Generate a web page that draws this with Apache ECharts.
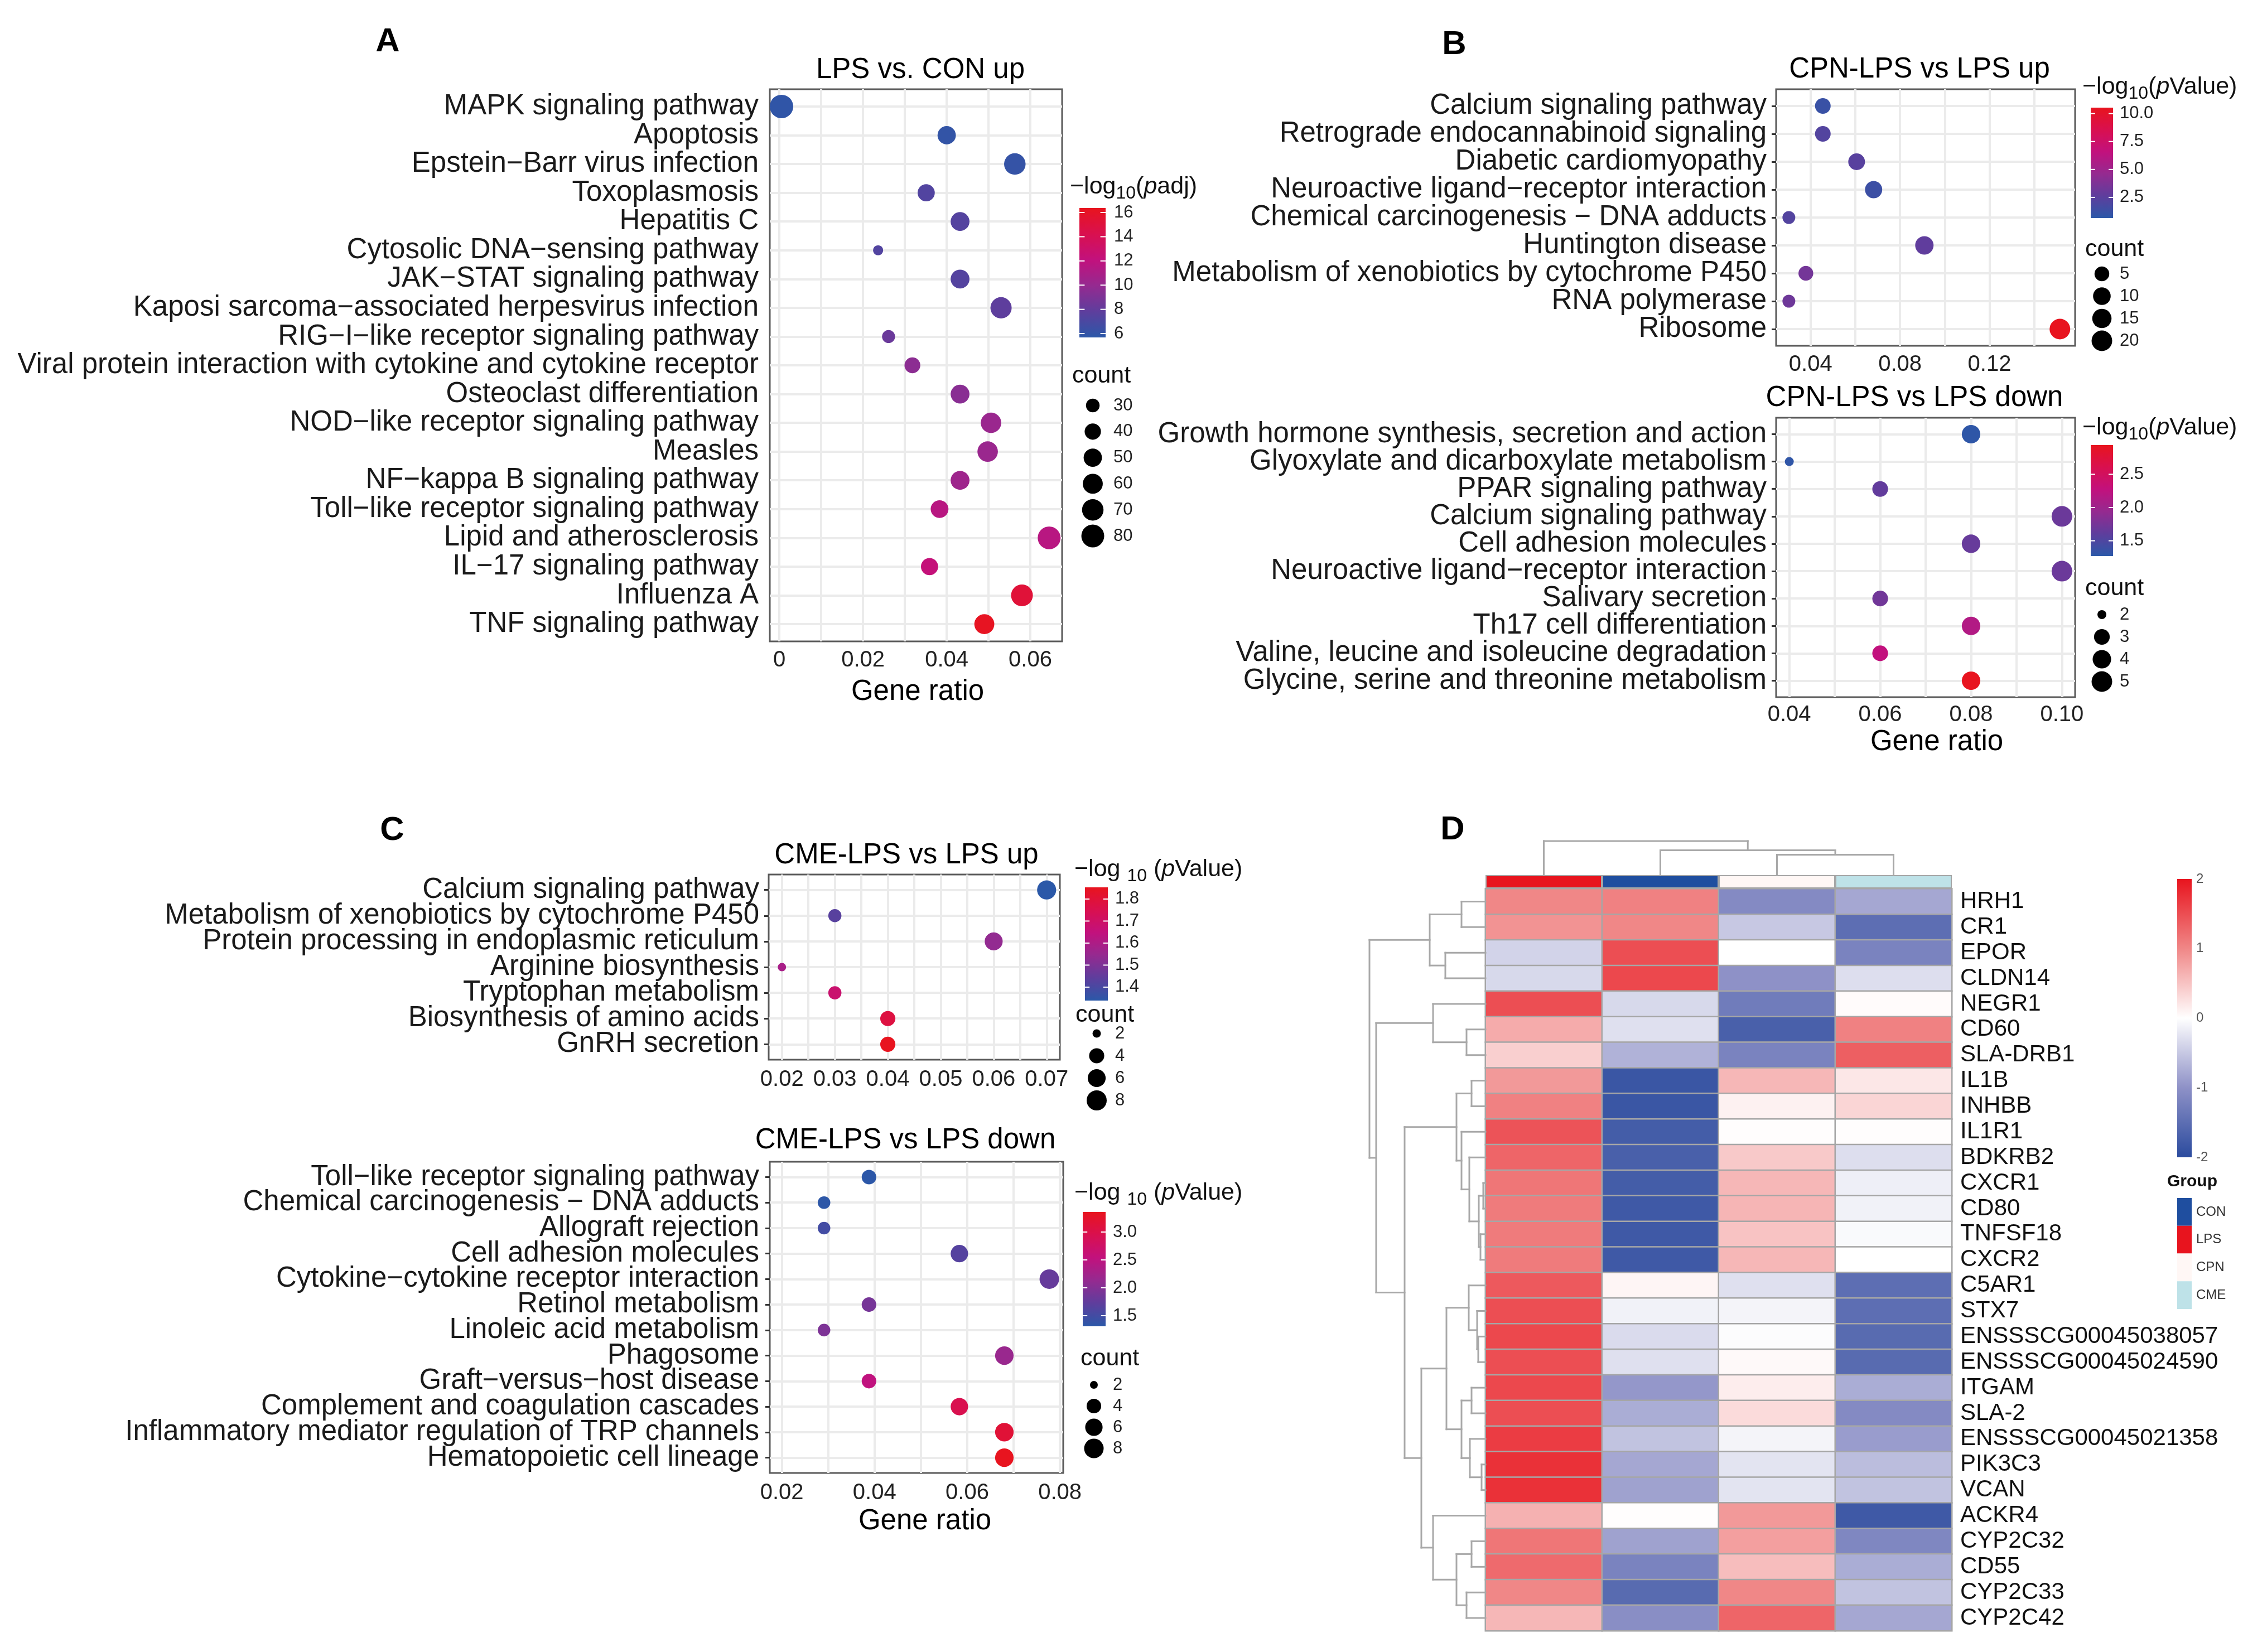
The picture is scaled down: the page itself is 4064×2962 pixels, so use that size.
<!DOCTYPE html>
<html><head><meta charset="utf-8">
<script src="https://cdn.jsdelivr.net/npm/echarts@6/dist/echarts.min.js"></script>
<style>html,body{margin:0;padding:0;background:#fff}#c{width:4064px;height:2962px}</style>
</head><body><div id="c"></div>
<script>
// ---------------- DATA ----------------
// Panel A: LPS vs. CON up
const A_terms = ['MAPK signaling pathway','Apoptosis','Epstein\u2212Barr virus infection','Toxoplasmosis','Hepatitis C','Cytosolic DNA\u2212sensing pathway','JAK\u2212STAT signaling pathway','Kaposi sarcoma\u2212associated herpesvirus infection','RIG\u2212I\u2212like receptor signaling pathway','Viral protein interaction with cytokine and cytokine receptor','Osteoclast differentiation','NOD\u2212like receptor signaling pathway','Measles','NF\u2212kappa B signaling pathway','Toll\u2212like receptor signaling pathway','Lipid and atherosclerosis','IL\u221217 signaling pathway','Influenza A','TNF signaling pathway'];
const A_ratio = [0.0005,0.0400,0.0563,0.0351,0.0432,0.0236,0.0432,0.0530,0.0261,0.0318,0.0432,0.0506,0.0498,0.0432,0.0383,0.0645,0.0359,0.0580,0.0490];
const A_count = [85,50,70,44,53,22,53,68,28,38,53,63,63,53,47,80,44,72,60];
const A_padj  = [5.9,6.0,6.1,7.3,7.4,7.3,7.4,7.8,8.3,9.6,9.5,10.2,10.2,10.4,11.6,11.6,12.3,15.2,16.2];
const A_xticks = [0,0.02,0.04,0.06];
const A_xgrid = [0,0.01,0.02,0.03,0.04,0.05,0.06];
const A_cticks = [6,8,10,12,14,16];
const A_sizeKeys = [30,40,50,60,70,80];

// Panel B up: CPN-LPS vs LPS up
const Bu_terms = ['Calcium signaling pathway','Retrograde endocannabinoid signaling','Diabetic cardiomyopathy','Neuroactive ligand\u2212receptor interaction','Chemical carcinogenesis \u2212 DNA adducts','Huntington disease','Metabolism of xenobiotics by cytochrome P450','RNA polymerase','Ribosome'];
const Bu_ratio = [0.0455,0.0455,0.0606,0.0682,0.0303,0.0909,0.0379,0.0303,0.1515];
const Bu_count = [6,6,8,9,4,12,5,4,20];
const Bu_logp  = [1.2,2.2,2.4,1.3,2.2,2.7,3.4,3.2,10.5];
const Bu_xticks = [0.04,0.08,0.12];
const Bu_xgrid = [0.04,0.06,0.08,0.10,0.12,0.14];
const Bu_cticks = [2.5,5.0,7.5,10.0];
const Bu_sizeKeys = [5,10,15,20];

// Panel B down: CPN-LPS vs LPS down
const Bd_terms = ['Growth hormone synthesis, secretion and action','Glyoxylate and dicarboxylate metabolism','PPAR signaling pathway','Calcium signaling pathway','Cell adhesion molecules','Neuroactive ligand\u2212receptor interaction','Salivary secretion','Th17 cell differentiation','Valine, leucine and isoleucine degradation','Glycine, serine and threonine metabolism'];
const Bd_ratio = [0.08,0.04,0.06,0.10,0.08,0.10,0.06,0.08,0.06,0.08];
const Bd_count = [4,2,3,5,4,5,3,4,3,4];
const Bd_logp  = [1.29,1.30,1.63,1.68,1.66,1.68,1.72,2.15,2.27,2.93];
const Bd_xticks = [0.04,0.06,0.08,0.10];
const Bd_xgrid = [0.04,0.05,0.06,0.07,0.08,0.09,0.10];
const Bd_cticks = [1.5,2.0,2.5];
const Bd_sizeKeys = [2,3,4,5];

// Panel C up: CME-LPS vs LPS up
const Cu_terms = ['Calcium signaling pathway','Metabolism of xenobiotics by cytochrome P450','Protein processing in endoplasmic reticulum','Arginine biosynthesis','Tryptophan metabolism','Biosynthesis of amino acids','GnRH secretion'];
const Cu_ratio = [0.07,0.03,0.06,0.02,0.03,0.04,0.04];
const Cu_count = [7,3,6,2,3,4,4];
const Cu_logp  = [1.34,1.43,1.54,1.59,1.68,1.78,1.85];
const Cu_xticks = [0.02,0.03,0.04,0.05,0.06,0.07];
const Cu_xgrid = [0.02,0.025,0.03,0.035,0.04,0.045,0.05,0.055,0.06,0.065,0.07];
const Cu_cticks = [1.4,1.5,1.6,1.7,1.8];
const Cu_sizeKeys = [2,4,6,8];

// Panel C down: CME-LPS vs LPS down
const Cd_terms = ['Toll\u2212like receptor signaling pathway','Chemical carcinogenesis \u2212 DNA adducts','Allograft rejection','Cell adhesion molecules','Cytokine\u2212cytokine receptor interaction','Retinol metabolism','Linoleic acid metabolism','Phagosome','Graft\u2212versus\u2212host disease','Complement and coagulation cascades','Inflammatory mediator regulation of TRP channels','Hematopoietic cell lineage'];
const Cd_ratio = [0.0388,0.0291,0.0291,0.0583,0.0777,0.0388,0.0291,0.0680,0.0388,0.0583,0.0680,0.0680];
const Cd_count = [4,3,3,6,8,4,3,7,4,6,7,7];
const Cd_logp  = [1.32,1.33,1.50,1.65,1.78,1.90,1.95,2.17,2.52,2.95,3.15,3.35];
const Cd_xticks = [0.02,0.04,0.06,0.08];
const Cd_xgrid = [0.02,0.03,0.04,0.05,0.06,0.07,0.08];
const Cd_cticks = [1.5,2.0,2.5,3.0];
const Cd_sizeKeys = [2,4,6,8];

// Panel D: heatmap
const HM_groups = ['LPS','CON','CPN','CME'];
const HM_genes = ['HRH1','CR1','EPOR','CLDN14','NEGR1','CD60','SLA-DRB1','IL1B','INHBB','IL1R1','BDKRB2','CXCR1','CD80','TNFSF18','CXCR2','C5AR1','STX7','ENSSSCG00045038057','ENSSSCG00045024590','ITGAM','SLA-2','ENSSSCG00045021358','PIK3C3','VCAN','ACKR4','CYP2C32','CD55','CYP2C33','CYP2C42'];
const HM_values = [
  [1.0,1.05,-1.1,-0.8],[0.9,1.0,-0.5,-1.5],[-0.4,1.5,0.0,-1.2],[-0.35,1.55,-1.0,-0.3],
  [1.5,-0.35,-1.3,0.03],[0.7,-0.28,-1.7,1.05],[0.4,-0.7,-1.2,1.35],
  [0.85,-1.85,0.6,0.2],[1.05,-1.85,0.12,0.35],[1.45,-1.75,0.02,0.02],[1.3,-1.7,0.45,-0.3],
  [1.15,-1.75,0.6,-0.15],[1.1,-1.8,0.62,-0.12],[1.1,-1.8,0.5,-0.05],[1.1,-1.8,0.6,0.0],
  [1.4,0.08,-0.28,-1.5],[1.5,-0.12,-0.1,-1.5],[1.55,-0.33,-0.03,-1.55],[1.5,-0.28,0.05,-1.55],
  [1.55,-0.95,0.15,-0.75],[1.5,-0.75,0.3,-1.1],[1.65,-0.55,-0.1,-0.9],[1.75,-0.8,-0.25,-0.6],[1.75,-0.85,-0.25,-0.55],
  [0.65,0.02,0.85,-1.8],[1.15,-0.85,0.8,-1.15],[1.25,-1.2,0.55,-0.75],[1.0,-1.55,1.0,-0.55],[0.6,-1.05,1.3,-0.8]
];
const HM_scaleTicks = [-2,-1,0,1,2];
const HM_legendGroups = ['CON','LPS','CPN','CME'];
// dendrograms: [mergeHeight, childA, childB]
const ROW_TREE = [208,
  [100,[43,'HRH1','CR1'],[72,'EPOR','CLDN14']],
  [196,
    [94,'NEGR1',[34,'CD60','SLA-DRB1']],
    [145,
      [52,[25,'IL1B','INHBB'],[43,'IL1R1',[29,'BDKRB2',[12,[4,'CXCR1','CD80'],[9,'TNFSF18','CXCR2']]]]],
      [115,
        [70,[30,'C5AR1',[15,'STX7',[13,'ENSSSCG00045038057','ENSSSCG00045024590']]],[43,[25,'ITGAM','SLA-2'],[28,'ENSSSCG00045021358',[7,'PIK3C3','VCAN']]]],
        [94,'ACKR4',[52,[25,'CYP2C32','CD55'],[34,'CYP2C33','CYP2C42']]]
      ]
    ]
  ]
];
const COL_TREE = [61,'LPS',[44.5,'CON',[36.5,'CPN','CME']]];

// ---------------- STYLE ----------------
const FONT = '"Liberation Sans", Arial, Helvetica, sans-serif';
const SCAT_COLORS = ['#2B58A8','#5E3E9D','#952A90','#C2117D','#D9104F','#E8141E'];
const HM_COLORS = ['#2B4B9E','#8E91C7','#FFFFFF','#F08787','#E8141E'];
const GROUP_COLORS = {LPS:'#E8141E', CON:'#1F4E9F', CPN:'#FFF7F5', CME:'#BEE2E8'};

const grids=[], xAxes=[], yAxes=[], series=[], visualMaps=[], graphics=[];
function addGrid(l,t,w,h,extra){
  grids.push(Object.assign({left:l, top:t, width:w, height:h, containLabel:false, outerBoundsMode:'none'}, extra||{}));
  return grids.length-1;
}
function sizeFn(p){ return v => p[2] + (p[3]-p[2]) * Math.sqrt(Math.max(0, v-p[0])/(p[1]-p[0])); }

function colorbar(box, range, ticks, fmt, margin, colors, withTicks, labStyle){
  const g = addGrid(box[0], box[1], box[2]-box[0], box[3]-box[1]);
  xAxes.push({gridIndex:g, type:'value', min:0, max:1, show:false});
  yAxes.push({gridIndex:g, type:'value', min:range[0], max:range[1], position:'right',
    axisLine:{show:false}, axisTick:{show:false}, splitLine:{show:false},
    axisLabel:Object.assign({customValues:ticks, formatter:fmt, fontSize:31, color:'#222', margin:margin, fontFamily:FONT,
      showMinLabel:true, showMaxLabel:true}, labStyle||{})});
  const xi = xAxes.length-1, yi = yAxes.length-1;
  const stops = colors.map((c,i)=>({offset:i/(colors.length-1), color:colors[colors.length-1-i]}));
  series.push({type:'custom', xAxisIndex:xi, yAxisIndex:yi, silent:true, clip:false, z:2,
    data:[[0, range[0]]],
    renderItem:(params, api)=>{
      const tl = api.coord([0, range[1]]), br = api.coord([1, range[0]]);
      const w = br[0]-tl[0], h = br[1]-tl[1];
      const ch = [{type:'rect', shape:{x:tl[0], y:tl[1], width:w, height:h}, style:{fill:new echarts.graphic.LinearGradient(0,0,0,1,stops)}}];
      if (withTicks) ticks.forEach(t=>{
        const y = api.coord([0,t])[1];
        ch.push({type:'line', shape:{x1:tl[0], y1:y, x2:tl[0]+w*0.2, y2:y}, style:{stroke:'#fff', lineWidth:2}});
        ch.push({type:'line', shape:{x1:br[0]-w*0.2, y1:y, x2:br[0], y2:y}, style:{stroke:'#fff', lineWidth:2}});
      });
      return {type:'group', children:ch};
    }});
}

function sizeLegend(cx, y0, y1, keys, sz, margin){
  const n = keys.length, band = (y1-y0)/(n-1);
  const g = addGrid(cx-20, y0-band/2, 40, band*n);
  xAxes.push({gridIndex:g, type:'value', min:-1, max:1, show:false});
  yAxes.push({gridIndex:g, type:'category', data:keys.map(String), inverse:true, position:'right',
    axisLine:{show:false}, axisTick:{show:false}, splitLine:{show:false},
    axisLabel:{interval:0, fontSize:31, color:'#222', margin:margin, fontFamily:FONT}});
  series.push({type:'scatter', xAxisIndex:xAxes.length-1, yAxisIndex:yAxes.length-1, silent:true, symbol:'circle',
    data:keys.map((k,i)=>[0,i,k]), symbolSize:v=>sz(v[2]), itemStyle:{color:'#000', opacity:1}});
}

function scatterPanel(o){
  const L = o.box[0], T = o.box[1], W = o.box[2]-o.box[0], H = o.box[3]-o.box[1];
  const g = addGrid(L, T, W, H, {show:true, borderColor:'#5a5a5a', borderWidth:3, backgroundColor:'#fff'});
  const n = o.terms.length, idx = o.terms.map((t,i)=>i);
  xAxes.push({gridIndex:g, type:'value', min:o.xr[0], max:o.xr[1], axisLine:{show:false}, splitLine:{show:false},
    axisTick:{show:true, customValues:o.xticks, length:8, lineStyle:{color:'#333', width:3}},
    axisLabel:{show:true, customValues:o.xticks, formatter:o.fmt, fontSize:40, color:'#222', margin:o.xm, fontFamily:FONT,
      showMinLabel:true, showMaxLabel:true}});
  const xi = xAxes.length-1;
  yAxes.push({gridIndex:g, type:'value', inverse:true, min:-0.6, max:n-0.4, axisLine:{show:false}, splitLine:{show:false},
    axisTick:{show:true, customValues:idx, length:8, lineStyle:{color:'#333', width:3}},
    axisLabel:{show:false}});
  const yi = yAxes.length-1;
  // category labels in a grid inset by 0.1 band (ggplot-like 0.6 padding)
  const band = H/(n+0.2);
  const gl = addGrid(L, T+0.1*band, W, band*n);
  xAxes.push({gridIndex:gl, type:'value', min:0, max:1, show:false});
  yAxes.push({gridIndex:gl, type:'category', data:o.terms, inverse:true,
    axisLine:{show:false}, axisTick:{show:false}, splitLine:{show:false},
    axisLabel:{interval:0, fontSize:51, color:'#1a1a1a', margin:o.ym, fontFamily:FONT}});
  const sz = sizeFn(o.size);
  series.push({type:'scatter', xAxisIndex:xi, yAxisIndex:yi, z:3, symbol:'circle', emphasis:{disabled:true},
    data:o.terms.map((t,i)=>[o.ratio[i], i, o.count[i], o.logp[i]]),
    symbolSize:v=>sz(v[2]), itemStyle:{opacity:1},
    markLine:{silent:true, symbol:['none','none'], precision:6, z:1, animation:false, label:{show:false},
      emphasis:{disabled:true}, lineStyle:{color:'#EBEBEB', width:4, type:'solid'},
      data:[...o.xgrid.map(v=>({xAxis:v})), ...idx.map(i=>({yAxis:i}))]}});
  visualMaps.push({type:'continuous', show:false, seriesIndex:series.length-1, dimension:3,
    min:o.cr[0], max:o.cr[1], inRange:{color:SCAT_COLORS}});
  colorbar(o.cbox, o.cr, o.cticks, o.cfmt, o.cm, SCAT_COLORS, true);
  sizeLegend(o.kx, o.ky[0], o.ky[1], o.keys, sz, o.km);
}

const f2 = v => v===0 ? '0' : v.toFixed(2);
const f1 = v => v.toFixed(1);
const f0 = v => String(Math.round(v));

scatterPanel({terms:A_terms, ratio:A_ratio, count:A_count, logp:A_padj, box:[1380,160,1904,1150], xr:[-0.0023,0.0676],
  xticks:A_xticks, xgrid:A_xgrid, fmt:f2, xm:14, ym:20, size:[20,85,13.1,42.1],
  cr:[5.68,16.37], cbox:[1935,373,1982,605], cticks:A_cticks, cfmt:f0, cm:15,
  kx:1959, ky:[727,961], keys:A_sizeKeys, km:17});
scatterPanel({terms:Bu_terms, ratio:Bu_ratio, count:Bu_count, logp:Bu_logp, box:[3184,160,3720,620], xr:[0.0246,0.1583],
  xticks:Bu_xticks, xgrid:Bu_xgrid, fmt:f2, xm:14, ym:17, size:[4,20,23,37],
  cr:[0.65,10.53], cbox:[3748,193,3788,391], cticks:Bu_cticks, cfmt:f1, cm:12,
  kx:3768, ky:[491,611], keys:Bu_sizeKeys, km:12});
scatterPanel({terms:Bd_terms, ratio:Bd_ratio, count:Bd_count, logp:Bd_logp, box:[3184,749,3720,1250], xr:[0.0371,0.1029],
  xticks:Bd_xticks, xgrid:Bd_xgrid, fmt:f2, xm:12, ym:17, size:[2,5,16,37],
  cr:[1.27,2.94], cbox:[3748,798,3788,997], cticks:Bd_cticks, cfmt:f1, cm:12,
  kx:3768, ky:[1102,1222], keys:Bd_sizeKeys, km:12});
scatterPanel({terms:Cu_terms, ratio:Cu_ratio, count:Cu_count, logp:Cu_logp, box:[1378,1568,1900,1900], xr:[0.0175,0.0725],
  xticks:Cu_xticks, xgrid:Cu_xgrid, fmt:f2, xm:16, ym:17, size:[2,8,15,36],
  cr:[1.339,1.853], cbox:[1945,1591,1986,1794], cticks:Cu_cticks, cfmt:f1, cm:13,
  kx:1966, ky:[1853,1973], keys:Cu_sizeKeys, km:13});
scatterPanel({terms:Cd_terms, ratio:Cd_ratio, count:Cd_count, logp:Cd_logp, box:[1380,2083,1906,2641], xr:[0.0174,0.0807],
  xticks:Cd_xticks, xgrid:Cd_xgrid, fmt:f2, xm:16, ym:19, size:[2,8,14,35],
  cr:[1.31,3.36], cbox:[1941,2173,1982,2378], cticks:Cd_cticks, cfmt:f1, cm:13,
  kx:1961, ky:[2483,2597], keys:Cd_sizeKeys, km:14});

// ---------------- HEATMAP ----------------
const HX = 2663, HY = 1593.5, HW = 836, HH = 1330.5;
const gH = addGrid(HX, HY, HW, HH);
xAxes.push({gridIndex:gH, type:'category', data:HM_groups, show:false});
yAxes.push({gridIndex:gH, type:'category', data:HM_genes, inverse:true, position:'right',
  axisLine:{show:false}, axisTick:{show:false}, splitLine:{show:false},
  axisLabel:{interval:0, fontSize:42, color:'#111', margin:15, fontFamily:FONT}});
series.push({type:'heatmap', xAxisIndex:xAxes.length-1, yAxisIndex:yAxes.length-1, emphasis:{disabled:true}, silent:true,
  data:HM_values.flatMap((row,r)=>row.map((v,c)=>[c,r,v])),
  itemStyle:{borderColor:'#A6A6A6', borderWidth:2.5}});
visualMaps.push({type:'continuous', show:false, seriesIndex:series.length-1, dimension:2, min:-2, max:2, inRange:{color:HM_COLORS}});

// annotation bar
const gAn = addGrid(HX, 1569, HW, 24);
xAxes.push({gridIndex:gAn, type:'category', data:HM_groups, show:false});
yAxes.push({gridIndex:gAn, type:'value', min:0, max:1, show:false});
series.push({type:'bar', xAxisIndex:xAxes.length-1, yAxisIndex:yAxes.length-1, silent:true, barWidth:'100%',
  data:HM_groups.map(gp=>({value:1, itemStyle:{color:GROUP_COLORS[gp]}})),
  itemStyle:{borderColor:'#A6A6A6', borderWidth:2}});

// dendrograms
function segmentsOf(tree, leaves){
  const segs=[];
  function rec(node){
    if (typeof node === 'string') return {h:0, p:leaves.indexOf(node)+0.5};
    const a = rec(node[1]), b = rec(node[2]), h = node[0];
    segs.push([a.h,a.p,h,a.p],[b.h,b.p,h,b.p],[h,a.p,h,b.p]);
    return {h:h, p:(a.p+b.p)/2};
  }
  rec(tree); return segs;
}
function dendroSeries(xi, yi, segs, map){
  series.push({type:'custom', xAxisIndex:xi, yAxisIndex:yi, silent:true, clip:false, data:[[0,0]],
    renderItem:(params, api)=>({type:'group', children:segs.map(s=>{
      const a = api.coord(map(s[0],s[1])), b = api.coord(map(s[2],s[3]));
      return {type:'line', shape:{x1:a[0],y1:a[1],x2:b[0],y2:b[1]}, style:{stroke:'#A8A8A8', lineWidth:3, lineCap:'square'}};
    })})});
}
const gRD = addGrid(2440, HY, HX-2440, HH);
xAxes.push({gridIndex:gRD, type:'value', min:0, max:HX-2440, inverse:true, show:false});
yAxes.push({gridIndex:gRD, type:'value', min:0, max:HM_genes.length, inverse:true, show:false});
dendroSeries(xAxes.length-1, yAxes.length-1, segmentsOf(ROW_TREE, HM_genes), (h,p)=>[h,p]);
const gCD = addGrid(HX, 1500, HW, 69);
xAxes.push({gridIndex:gCD, type:'value', min:0, max:HM_groups.length, show:false});
yAxes.push({gridIndex:gCD, type:'value', min:0, max:69, show:false});
dendroSeries(xAxes.length-1, yAxes.length-1, segmentsOf(COL_TREE, HM_groups), (h,p)=>[p,h]);

// heatmap scale
colorbar([3903,1576,3929,2075], [-2,2], HM_scaleTicks, v=>String(v), 8, HM_COLORS, false, {fontSize:24, color:'#555'});
// group legend
const gGL = addGrid(3903, 2148, 26, 199);
xAxes.push({gridIndex:gGL, type:'value', min:0, max:1, show:false});
yAxes.push({gridIndex:gGL, type:'category', data:HM_legendGroups, inverse:true, position:'right',
  axisLine:{show:false}, axisTick:{show:false}, splitLine:{show:false},
  axisLabel:{interval:0, fontSize:24, color:'#333', margin:8, fontFamily:FONT}});
series.push({type:'bar', xAxisIndex:xAxes.length-1, yAxisIndex:yAxes.length-1, silent:true, barWidth:'100%',
  data:HM_legendGroups.map(gp=>({value:1, itemStyle:{color:GROUP_COLORS[gp]}}))});

// ---------------- TEXTS ----------------
function txt(x, y, text, st){
  graphics.push({type:'text', x:x, y:y, silent:true, z:10, style:Object.assign({text:text, fontFamily:FONT, fontSize:51, fill:'#000',
    textAlign:'center', align:'center', textVerticalAlign:'middle', verticalAlign:'middle'}, st||{})});
}
const LEFT = {textAlign:'left', align:'left'};
txt(695, 75, 'A', {fontWeight:'bold', fontSize:60});
txt(2607, 80, 'B', {fontWeight:'bold', fontSize:60});
txt(703, 1489, 'C', {fontWeight:'bold', fontSize:60});
txt(2604, 1488, 'D', {fontWeight:'bold', fontSize:60});
txt(1650, 126, 'LPS vs. CON up');
txt(3441, 125, 'CPN-LPS vs LPS up');
txt(3432, 714, 'CPN-LPS vs LPS down');
txt(1625, 1534, 'CME-LPS vs LPS up');
txt(1623, 2045, 'CME-LPS vs LPS down');
txt(1645, 1241, 'Gene ratio');
txt(3472, 1331, 'Gene ratio');
txt(1658, 2728, 'Gene ratio');
const RICH = {
  a:{fontSize:43, fontFamily:FONT, fill:'#111', lineHeight:56, verticalAlign:'middle'},
  i:{fontSize:43, fontFamily:FONT, fill:'#111', fontStyle:'italic', lineHeight:56, verticalAlign:'middle'},
  s:{fontSize:32, fontFamily:FONT, fill:'#111', verticalAlign:'bottom'}
};
function legTitle(x, y, text){ txt(x, y, text, Object.assign({rich:RICH, fontSize:43, fill:'#111'}, LEFT)); }
legTitle(1918, 335, '{a|\u2212log}{s|10}{a|(}{i|p}{a|adj)}');
legTitle(3733, 156, '{a|\u2212log}{s|10}{a|(}{i|p}{a|Value)}');
legTitle(3733, 767, '{a|\u2212log}{s|10}{a|(}{i|p}{a|Value)}');
legTitle(1926, 1559, '{a|\u2212log }{s|10}{a| (}{i|p}{a|Value)}');
legTitle(1926, 2139, '{a|\u2212log }{s|10}{a| (}{i|p}{a|Value)}');
const CNT = Object.assign({fontSize:43, fill:'#111'}, LEFT);
txt(1922, 674, 'count', CNT);
txt(3738, 447, 'count', CNT);
txt(3738, 1055, 'count', CNT);
txt(1928, 1820, 'count', CNT);
txt(1937, 2436, 'count', CNT);
txt(3885, 2119, 'Group', Object.assign({fontSize:30, fontWeight:'bold', fill:'#111'}, LEFT));

const chart = echarts.init(document.getElementById('c'), null, {renderer:'canvas', width:4064, height:2962});
chart.setOption({
  animation:false, backgroundColor:'#fff', textStyle:{fontFamily:FONT},
  grid:grids, xAxis:xAxes, yAxis:yAxes, series:series, visualMap:visualMaps, graphic:graphics
});
</script></body></html>
